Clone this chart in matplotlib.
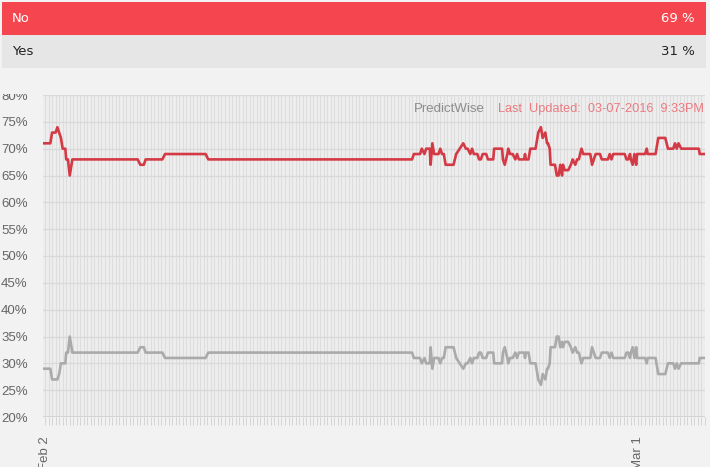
import numpy as np
import pandas as pd
import matplotlib
matplotlib.use("Agg")
import matplotlib.pyplot as plt
import matplotlib.dates as mdates
from matplotlib.patches import Rectangle

# hours after 2016-02-02 00:00
hours = [-2, 6, 8, 12, 14, 16, 18, 20, 23, 24, 26, 28, 31, 105, 108, 112, 114, 133, 136,
         182, 185, 416, 418, 425, 427, 430, 432, 436, 437, 439, 441, 446, 448, 450, 452,
         454, 463, 466, 470, 474, 477, 479, 482, 484, 486, 490, 492, 494, 496, 500, 502,
         508, 509, 518, 519, 521, 524, 525, 527, 530, 533, 535, 537, 543, 544, 545, 548,
         550, 556, 559, 562, 564, 567, 569, 570, 572, 573, 578, 580, 582, 584, 586, 587,
         589, 593, 596, 598, 601, 603, 605, 608, 610, 618, 620, 622, 624, 629, 631, 638,
         640, 642, 644, 657, 659, 661, 663, 664, 666, 668, 670, 671, 674, 680, 682, 683,
         692, 695, 703, 706, 712, 714, 716, 718, 721, 741, 742, 748]
no_pct = [71, 71, 73, 73, 74, 73, 72, 70, 70, 68, 68, 65, 68, 68, 67, 67, 68, 68, 69,
          69, 68, 68, 69, 69, 70, 69, 70, 70, 67, 71, 69, 69, 70, 69, 69,
          67, 67, 69, 70, 71, 70, 70, 69, 70, 69, 69, 68, 68, 69, 69, 68,
          68, 70, 70, 68, 67, 69, 70, 69, 69, 68, 69, 68, 68, 69, 68, 68,
          70, 70, 73, 74, 72, 73, 71, 71, 70, 67, 67, 65, 65, 67, 65, 67,
          66, 66, 67, 68, 67, 68, 68, 70, 69, 69, 67, 68, 69, 69, 68, 68,
          69, 68, 69, 69, 68, 68, 69, 68, 67, 69, 67, 69, 69, 69, 70, 69,
          69, 72, 72, 70, 70, 71, 70, 71, 70, 70, 69, 69]
yes_pct = [29, 29, 27, 27, 27, 28, 30, 30, 30, 32, 32, 35, 32, 32, 33, 33, 32, 32, 31,
           31, 32, 32, 31, 31, 30, 31, 30, 30, 33, 29, 31, 31, 30, 31, 31,
           33, 33, 31, 30, 29, 30, 30, 31, 30, 31, 31, 32, 32, 31, 31, 32,
           32, 30, 30, 32, 33, 31, 30, 31, 31, 32, 31, 32, 32, 31, 32, 32,
           30, 30, 27, 26, 28, 27, 29, 29, 30, 33, 33, 35, 35, 33, 34, 33,
           34, 34, 33, 32, 33, 32, 32, 30, 31, 31, 33, 32, 31, 31, 32, 32,
           31, 32, 31, 31, 32, 32, 31, 32, 33, 31, 33, 31, 31, 31, 30, 31,
           31, 28, 28, 30, 30, 29, 30, 29, 30, 30, 31, 31]
outcomes = ["No", "Yes"]
tick_dates = ["2016-02-02", "2016-03-01"]
tick_labels = ["Feb 2", "Mar 1"]

start = pd.Timestamp("2016-02-02")
times = start + pd.to_timedelta(hours, unit="h")

W, H = 710, 467
fig = plt.figure(figsize=(W / 100, H / 100), dpi=100, facecolor="#F2F2F2")
ax = fig.add_axes([43 / W, 50 / H, 662 / W, 322 / H])
ax.set_facecolor("#EDEDED")

ax.plot(times, yes_pct, color="#AAAAAA", lw=1.9, zorder=3)
ax.plot(times, no_pct, color="#D43A45", lw=1.9, zorder=4)

ax.set_ylim(20, 80)
ax.set_xlim(times[0] - pd.Timedelta(hours=0.3), times[-1])
ax.set_yticks(range(20, 81, 5))
ax.set_yticklabels([f"{v}%" for v in range(20, 81, 5)])
ax.set_xticks(pd.to_datetime(tick_dates))
ax.set_xticklabels(tick_labels, rotation=90, va="top", ha="center")
ax.xaxis.set_minor_locator(mdates.HourLocator(byhour=range(0, 24, 4)))

ax.grid(axis="y", color="#D9D9D9", lw=1)
ax.grid(axis="x", which="both", color="#DDDDDD", lw=0.7)
for s in ax.spines.values():
    s.set_visible(False)
ax.axhline(20, color="#D0D0D0", lw=1.2, zorder=2)

ax.tick_params(axis="y", length=0, pad=11, labelsize=9.5, labelcolor="#666666")
ax.tick_params(axis="x", which="both", length=6, color="#D5D5D5", width=0.7,
               labelsize=9.5, labelcolor="#666666", pad=8)
for lab in ax.get_yticklabels() + ax.get_xticklabels():
    lab.set_family("Liberation Sans")

ax.text(0.668, 0.958, "PredictWise", transform=ax.transAxes, color="#8C8C8C",
        fontsize=9.5, family="Liberation Sans", ha="right", va="center")
ax.text(0.998, 0.958, "Last  Updated:  03-07-2016  9:33PM", transform=ax.transAxes,
        color="#EB7A80", fontsize=9.2, family="Liberation Sans", ha="right", va="center")

# cover the top of the chart (cuts the 80% label like the page does)
fig.add_artist(Rectangle((0, (H - 94) / H), 1, 94 / H, transform=fig.transFigure,
                         facecolor="#F2F2F2", edgecolor="none", zorder=5))

bar_colors = ["#F5464F", "#E6E6E6"]
text_colors = ["white", "#222222"]
last_vals = [no_pct[-1], yes_pct[-1]]
for i, name in enumerate(outcomes):
    top = 2 + i * 33
    fig.add_artist(Rectangle((2 / W, (H - top - 33) / H), 704 / W, 33 / H,
                             transform=fig.transFigure, facecolor=bar_colors[i],
                             edgecolor="none", zorder=6))
    yc = (H - top - 16.5) / H
    fig.text(12 / W, yc, name, color=text_colors[i], fontsize=9.5,
             ha="left", va="center", zorder=7)
    fig.text(695 / W, yc, f"{last_vals[i]} %", color=text_colors[i], fontsize=9.5,
             ha="right", va="center", zorder=7)

fig.savefig("out.png", dpi=100, facecolor=fig.get_facecolor())
